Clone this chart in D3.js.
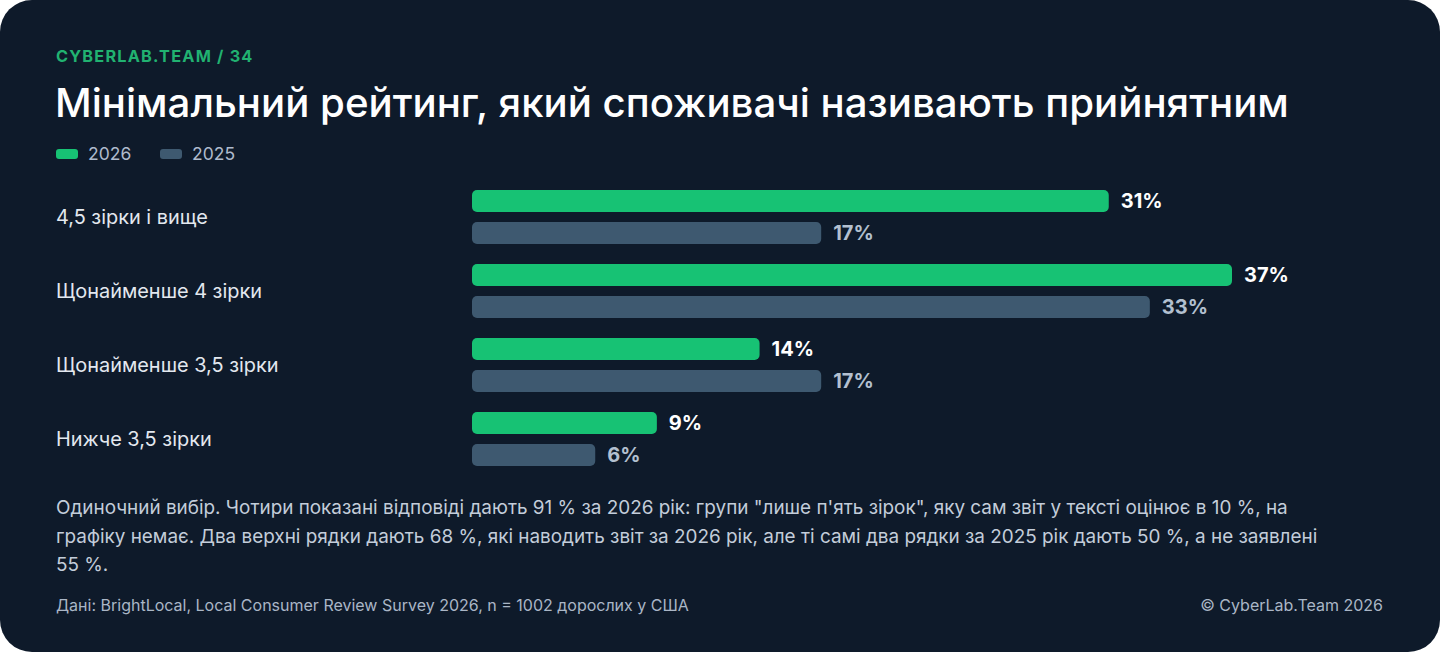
<!DOCTYPE html>
<html>
<head>
<meta charset="utf-8">
<script src="https://cdn.jsdelivr.net/npm/d3@7"></script>
<style>
  body { margin: 0; background: #ffffff; }
  svg text { font-family: Inter, "Noto Sans", sans-serif; }
</style>
</head>
<body>
<div id="chart"></div>
<script>
// chart data
let categories = ['4,5 зірки і вище', 'Щонайменше 4 зірки', 'Щонайменше 3,5 зірки', 'Нижче 3,5 зірки']
let values2026 = [31, 37, 14, 9]
let values2025 = [17, 33, 17, 6]
let seriesNames = ['2026', '2025']

let noteLines = [
    'Одиночний вибір. Чотири показані відповіді дають 91 % за 2026 рік: групи "лише п\'ять зірок", яку сам звіт у тексті оцінює в 10 %, на',
    'графіку немає. Два верхні рядки дають 68 %, які наводить звіт за 2026 рік, але ті самі два рядки за 2025 рік дають 50 %, а не заявлені',
    '55 %.'
]

let width = 1440, height = 652
let bg = '#0e1a2a', green = '#17c274', gray = '#3e5970'

let svg = d3.select('#chart')
    .append('svg')
    .attr('width', width)
    .attr('height', height)

// dark card
svg.append('rect')
    .attr('width', width)
    .attr('height', height)
    .attr('rx', 32)
    .attr('fill', bg)

// header
svg.append('text')
    .attr('x', 56).attr('y', 62)
    .attr('fill', '#21b271')
    .style('font-size', '16.3px')
    .style('font-weight', 700)
    .style('letter-spacing', '1.2px')
    .text('CYBERLAB.TEAM / 34')

svg.append('text')
    .attr('x', 55).attr('y', 117)
    .attr('fill', '#ffffff')
    .style('font-size', '40.2px')
    .style('font-weight', 500)
    .text('Мінімальний рейтинг, який споживачі називають прийнятним')

// legend
let legend = svg.selectAll('.legend')
    .data(seriesNames)
    .enter()
    .append('g')
    .attr('transform', function(d, i) {return 'translate(' + (56 + i * 104) + ',149)'})

legend.append('rect')
    .attr('width', 22).attr('height', 10).attr('rx', 3)
    .attr('fill', function(d, i) {return i === 0 ? green : gray})

legend.append('text')
    .attr('x', 32).attr('y', 11)
    .attr('fill', '#aebbcd')
    .style('font-size', '17.5px')
    .text(function(d) {return d})

// scales
let x = d3.scaleLinear()
    .domain([0, 37])
    .range([472, 1232])

let y = d3.scaleBand()
    .domain(categories)
    .range([190, 190 + 74 * categories.length])

let barH = 22, barGap = 10

let rows = categories.map(function(c, i) {
    return {cat: c, v26: values2026[i], v25: values2025[i]}
})

let group = svg.selectAll('.row')
    .data(rows)
    .enter()
    .append('g')
    .attr('transform', function(d) {return 'translate(0,' + y(d.cat) + ')'})

// category labels
group.append('text')
    .attr('x', 56)
    .attr('y', barH + barGap / 2)
    .attr('dy', '0.35em')
    .attr('fill', '#e3e8ef')
    .style('font-size', '19.9px')
    .text(function(d) {return d.cat})

// 2026 bars
group.append('rect')
    .attr('x', x(0))
    .attr('y', 0)
    .attr('width', function(d) {return x(d.v26) - x(0)})
    .attr('height', barH)
    .attr('rx', 5)
    .attr('fill', green)

group.append('text')
    .attr('x', function(d) {return x(d.v26) + 12})
    .attr('y', barH / 2)
    .attr('dy', '0.36em')
    .attr('fill', '#ffffff')
    .style('font-size', '20px')
    .style('font-weight', 700)
    .text(function(d) {return d.v26 + '%'})

// 2025 bars
group.append('rect')
    .attr('x', x(0))
    .attr('y', barH + barGap)
    .attr('width', function(d) {return x(d.v25) - x(0)})
    .attr('height', barH)
    .attr('rx', 5)
    .attr('fill', gray)

group.append('text')
    .attr('x', function(d) {return x(d.v25) + 12})
    .attr('y', barH + barGap + barH / 2)
    .attr('dy', '0.36em')
    .attr('fill', '#b3c0d0')
    .style('font-size', '20px')
    .style('font-weight', 700)
    .text(function(d) {return d.v25 + '%'})

// footnote
svg.append('text')
    .attr('fill', '#c3cdda')
    .style('font-size', '18.9px')
    .selectAll('tspan')
    .data(noteLines)
    .enter()
    .append('tspan')
    .attr('x', 56)
    .attr('y', function(d, i) {return 514 + i * 28.5})
    .text(function(d) {return d})

// source and copyright
svg.append('text')
    .attr('x', 56).attr('y', 611)
    .attr('fill', '#aab6c6')
    .style('font-size', '16px')
    .text('Дані: BrightLocal, Local Consumer Review Survey 2026, n = 1002 дорослих у США')

svg.append('text')
    .attr('x', 1383).attr('y', 611)
    .attr('text-anchor', 'end')
    .attr('fill', '#aab6c6')
    .style('font-size', '16px')
    .text('© CyberLab.Team  2026')
</script>
</body>
</html>
